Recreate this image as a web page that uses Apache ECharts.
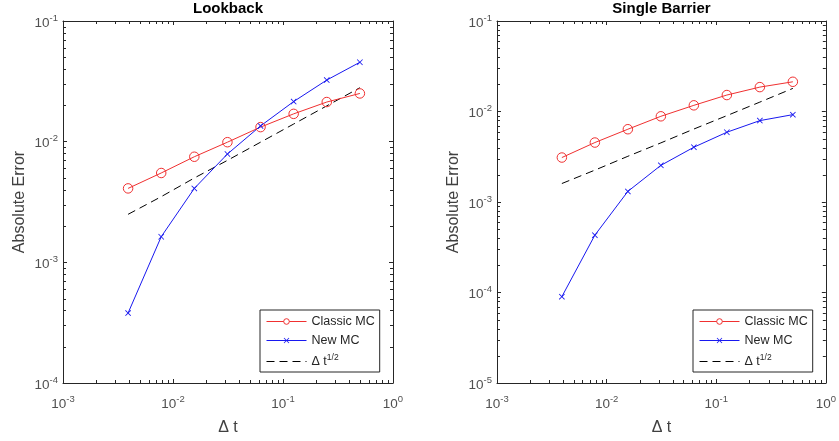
<!DOCTYPE html>
<html>
<head>
<meta charset="utf-8">
<script src="https://cdn.jsdelivr.net/npm/echarts@6/dist/echarts.min.js"></script>
<style>html,body{margin:0;padding:0;background:#fff}#c{width:839px;height:441px}</style>
</head>
<body>
<div id="c"></div>
<script>
// ---- data ----
const dt = [0.00390625, 0.0078125, 0.015625, 0.03125, 0.0625, 0.125, 0.25, 0.5];
const lookClassic = [0.0041, 0.0055, 0.0075, 0.0099, 0.0132, 0.0170, 0.0213, 0.0251];
const lookNew     = [0.00038, 0.00163, 0.0041, 0.0079, 0.0135, 0.0215, 0.0324, 0.0455];
const lookRef     = [0.0025, 0.0035, 0.0050, 0.0070, 0.0099, 0.0140, 0.0198, 0.0280];
const barClassic  = [0.0031, 0.00454, 0.00637, 0.00885, 0.0117, 0.0152, 0.0186, 0.0213];
const barNew      = [0.00009, 0.00043, 0.00131, 0.00254, 0.00403, 0.0059, 0.00793, 0.00923];
const barRef      = [0.0016, 0.00225, 0.0032, 0.0045, 0.0064, 0.0090, 0.0127, 0.0180];
const titles = ['Lookback', 'Single Barrier'];
const seriesNames = ['Classic MC', 'New MC', 'Δ t^1/2'];
const xRange = [0.001, 1];
const yRanges = [[0.0001, 0.1], [0.00001, 0.1]];
const mantissas = [2, 3, 4, 5, 6, 7, 8, 9];

// ---- styling ----
const AX = '#262626';
const LBL = '#505050';
const FONT = '"Liberation Sans", Arial, Helvetica, sans-serif';
const RED = '#f03030';
const BLUE = '#1818f0';
const crossPath = 'path://M0,1L1,0L5,4L9,0L10,1L6,5L10,9L9,10L5,6L1,10L0,9L4,5Z';

function minorTicks(lo, hi) {
  const out = [];
  for (let e = Math.round(Math.log10(lo)); e < Math.round(Math.log10(hi)); e++) {
    mantissas.forEach(m => out.push(m * Math.pow(10, e)));
  }
  return out;
}
function powLabel(v) {
  const e = Math.round(Math.log10(v));
  return '{b|10}{s|' + e + '}';
}
const labelRich = {
  b: {fontSize: 13.5, color: LBL, fontFamily: FONT, padding: [4, 0, 0, 0]},
  s: {fontSize: 9.5, color: LBL, fontFamily: FONT, padding: [0, 0, 6, 0]}
};

const grids = [
  {left: 63, top: 21, width: 330, height: 363},
  {left: 497, top: 21, width: 329, height: 363}
];

const xAxes = [], yAxes = [], series = [], legends = [], titleArr = [];
const dataSets = [[lookClassic, lookNew, lookRef], [barClassic, barNew, barRef]];

grids.forEach((g, i) => {
  const yr = yRanges[i];
  xAxes.push({
    type: 'log', logBase: 10, gridIndex: i, min: xRange[0], max: xRange[1], position: 'bottom',
    name: 'Δ t', nameLocation: 'middle', nameGap: 37,
    nameTextStyle: {fontSize: 16, color: '#404040', fontFamily: FONT},
    axisLine: {show: true, lineStyle: {color: AX, width: 1}},
    axisTick: {show: true, inside: true, length: 4, lineStyle: {color: AX}},
    axisLabel: {formatter: powLabel, rich: labelRich, margin: 10},
    splitLine: {show: false}
  });
  xAxes.push({
    type: 'log', logBase: 10, gridIndex: i, min: xRange[0], max: xRange[1], position: 'top',
    axisLine: {show: true, lineStyle: {color: AX, width: 1}},
    axisTick: {show: true, inside: true, length: 4, lineStyle: {color: AX}},
    axisLabel: {show: false}, splitLine: {show: false}
  });
  yAxes.push({
    type: 'log', logBase: 10, gridIndex: i, min: yr[0], max: yr[1], position: 'left',
    name: 'Absolute Error', nameLocation: 'middle', nameGap: 35, nameRotate: 90,
    nameTextStyle: {fontSize: 16, color: '#404040', fontFamily: FONT},
    axisLine: {show: true, lineStyle: {color: AX, width: 1}},
    axisTick: {show: true, inside: true, length: 4, lineStyle: {color: AX}},
    axisLabel: {formatter: powLabel, rich: labelRich, margin: 5},
    splitLine: {show: false}
  });
  yAxes.push({
    type: 'log', logBase: 10, gridIndex: i, min: yr[0], max: yr[1], position: 'right',
    axisLine: {show: true, lineStyle: {color: AX, width: 1}},
    axisTick: {show: true, inside: true, length: 4, lineStyle: {color: AX}},
    axisLabel: {show: false}, splitLine: {show: false}
  });
  const xi = i * 2, yi = i * 2;
  const [cl, nw, rf] = dataSets[i];
  series.push({
    name: seriesNames[0], type: 'line', xAxisIndex: xi, yAxisIndex: yi,
    data: dt.map((x, k) => [x, cl[k]]),
    symbol: 'circle', symbolSize: 9.5, showAllSymbol: true,
    lineStyle: {color: RED, width: 1},
    itemStyle: {color: 'rgba(255,255,255,0)', borderColor: RED, borderWidth: 1},
    z: 3, animation: false
  });
  series.push({
    name: seriesNames[1], type: 'line', xAxisIndex: xi, yAxisIndex: yi,
    data: dt.map((x, k) => [x, nw[k]]),
    symbol: crossPath, symbolSize: 6, showAllSymbol: true,
    lineStyle: {color: BLUE, width: 1}, itemStyle: {color: BLUE},
    z: 3, animation: false
  });
  series.push({
    name: seriesNames[2], type: 'line', xAxisIndex: xi, yAxisIndex: yi,
    data: dt.map((x, k) => [x, rf[k]]),
    symbol: 'circle', symbolSize: 0, showSymbol: false,
    lineStyle: {color: '#000', width: 1, type: [8, 5]}, itemStyle: {color: '#000'},
    z: 2, animation: false
  });
  series.push({
    type: 'custom', xAxisIndex: xi, yAxisIndex: yi, silent: true, animation: false, clip: false,
    data: minorTicks(xRange[0], xRange[1]).map(v => [v, yr[1]]),
    renderItem: (params, api) => {
      const cs = params.coordSys;
      const px = Math.round(api.coord([api.value(0), yr[1]])[0]) + 0.5;
      const st = {stroke: AX, lineWidth: 1};
      return {type: 'group', children: [
        {type: 'line', shape: {x1: px, y1: cs.y + cs.height, x2: px, y2: cs.y + cs.height - 3}, style: st},
        {type: 'line', shape: {x1: px, y1: cs.y, x2: px, y2: cs.y + 3}, style: st}
      ]};
    }
  });
  series.push({
    type: 'custom', xAxisIndex: xi, yAxisIndex: yi, silent: true, animation: false, clip: false,
    data: minorTicks(yr[0], yr[1]).map(v => [xRange[1], v]),
    renderItem: (params, api) => {
      const cs = params.coordSys;
      const py = Math.round(api.coord([xRange[1], api.value(1)])[1]) + 0.5;
      const st = {stroke: AX, lineWidth: 1};
      return {type: 'group', children: [
        {type: 'line', shape: {x1: cs.x, y1: py, x2: cs.x + 3, y2: py}, style: st},
        {type: 'line', shape: {x1: cs.x + cs.width, y1: py, x2: cs.x + cs.width - 3, y2: py}, style: st}
      ]};
    }
  });
  legends.push({
    data: [
      {name: seriesNames[0], itemStyle: {color: '#fff', borderColor: RED, borderWidth: 1}, lineStyle: {width: 1, color: RED}},
      {name: seriesNames[1], lineStyle: {width: 1, color: BLUE}},
      {name: seriesNames[2], itemStyle: {opacity: 0}, lineStyle: {width: 1, color: '#000', type: [8, 5]}}
    ],
    orient: 'vertical',
    left: i === 0 ? 260 : 693, top: 310,
    itemWidth: 40, itemHeight: 7, itemGap: 6,
    padding: [5, 5, 4, 6],
    borderColor: AX, borderWidth: 1, backgroundColor: '#fff',
    selectedMode: false,
    textStyle: {fontSize: 12.5, color: '#262626', fontFamily: FONT,
      rich: {n: {fontSize: 12.5, color: '#262626', fontFamily: FONT},
             s: {fontSize: 8.5, color: '#262626', fontFamily: FONT, padding: [0, 0, 8, 0]}}},
    formatter: name => name === seriesNames[2] ? '{n|Δ t}{s|1/2}' : name
  });
  titleArr.push({
    text: titles[i], left: g.left + g.width / 2, top: 0, textAlign: 'center', padding: [1, 0, 0, 0],
    textStyle: {fontSize: 15, fontWeight: 'bold', color: '#000', fontFamily: FONT}
  });
});

const chart = echarts.init(document.getElementById('c'), null, {renderer: 'canvas'});
chart.setOption({
  animation: false,
  backgroundColor: '#fff',
  title: titleArr,
  grid: grids,
  xAxis: xAxes,
  yAxis: yAxes,
  legend: legends,
  series: series
});
</script>
</body>
</html>
